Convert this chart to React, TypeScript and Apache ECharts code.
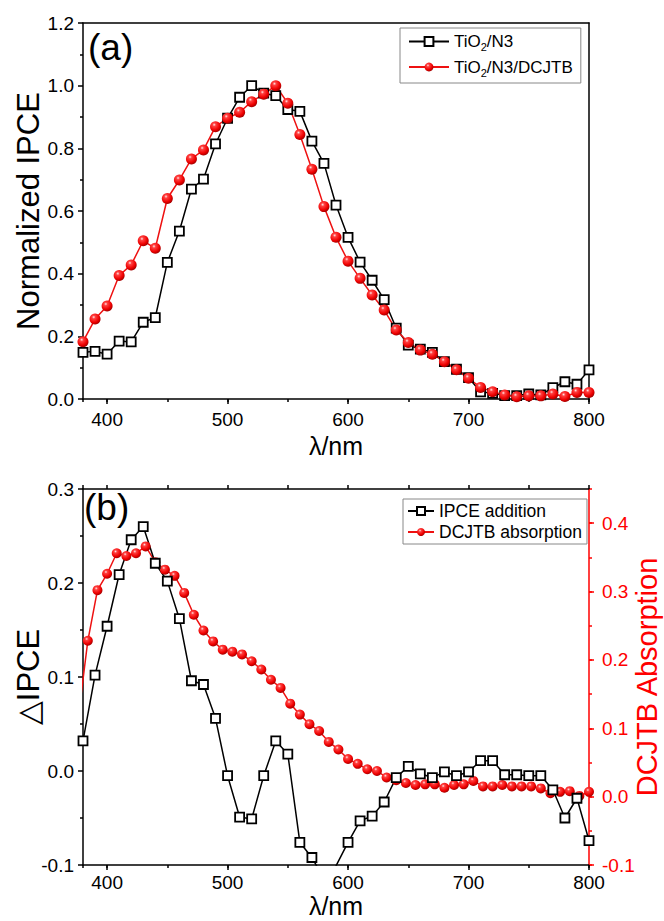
import React, { useEffect, useRef } from 'react';
import * as echarts from 'echarts';

// ---------- data ----------
const lambdaA = [380, 390, 400, 410, 420, 430, 440, 450, 460, 470, 480, 490, 500, 510, 520, 530, 540, 550, 560, 570, 580, 590, 600, 610, 620, 630, 640, 650, 660, 670, 680, 690, 700, 710, 720, 730, 740, 750, 760, 770, 780, 790, 800];
const n3Ipce = [0.149, 0.152, 0.143, 0.185, 0.182, 0.245, 0.26, 0.436, 0.536, 0.67, 0.702, 0.814, 0.896, 0.963, 1.0, 0.976, 0.968, 0.924, 0.918, 0.823, 0.752, 0.619, 0.516, 0.437, 0.379, 0.317, 0.226, 0.172, 0.159, 0.149, 0.119, 0.095, 0.068, 0.023, 0.018, 0.011, 0.011, 0.016, 0.013, 0.036, 0.055, 0.047, 0.093];
const dcjtbIpce = [0.183, 0.255, 0.297, 0.394, 0.428, 0.505, 0.481, 0.64, 0.699, 0.766, 0.795, 0.869, 0.896, 0.915, 0.949, 0.973, 1.0, 0.944, 0.844, 0.733, 0.614, 0.516, 0.44, 0.385, 0.332, 0.284, 0.22, 0.18, 0.156, 0.143, 0.119, 0.093, 0.066, 0.037, 0.023, 0.013, 0.007, 0.01, 0.01, 0.016, 0.008, 0.021, 0.021];

const lambdaB = [380, 390, 400, 410, 420, 430, 440, 450, 460, 470, 480, 490, 500, 510, 520, 530, 540, 550, 560, 570, 580, 590, 600, 610, 620, 630, 640, 650, 660, 670, 680, 690, 700, 710, 720, 730, 740, 750, 760, 770, 780, 790, 800];
const ipceAddition = [0.032, 0.102, 0.154, 0.209, 0.246, 0.26, 0.221, 0.202, 0.162, 0.096, 0.092, 0.056, -0.005, -0.049, -0.051, -0.005, 0.032, 0.018, -0.076, -0.092, -0.115, -0.101, -0.076, -0.053, -0.048, -0.033, -0.007, 0.005, -0.003, -0.007, -0.001, -0.005, -0.001, 0.011, 0.011, -0.004, -0.004, -0.005, -0.005, -0.02, -0.05, -0.029, -0.074];

const lambdaAbs = [376, 384, 392, 400, 408, 416, 424, 432, 440, 448, 456, 464, 472, 480, 488, 496, 504, 512, 520, 528, 536, 544, 552, 560, 568, 576, 584, 592, 600, 608, 616, 624, 632, 640, 648, 656, 664, 672, 680, 688, 696, 704, 712, 720, 728, 736, 744, 752, 760, 768, 776, 784, 792, 800];
const dcjtbAbs = [0.115, 0.228, 0.302, 0.326, 0.356, 0.352, 0.356, 0.366, 0.343, 0.332, 0.323, 0.298, 0.266, 0.243, 0.227, 0.215, 0.212, 0.208, 0.198, 0.186, 0.171, 0.159, 0.136, 0.12, 0.106, 0.096, 0.08, 0.069, 0.055, 0.048, 0.04, 0.0375, 0.028, 0.024, 0.02, 0.017, 0.018, 0.018, 0.013, 0.017, 0.018, 0.023, 0.015, 0.015, 0.017, 0.015, 0.015, 0.015, 0.012, 0.005, 0.007, 0.008, 0.001, 0.007];

const legendTop = ['TiO2/N3', 'TiO2/N3/DCJTB'];
const legendBottom = ['IPCE addition', 'DCJTB absorption'];

// ---------- style ----------
const FONT = '"Liberation Sans", Arial, sans-serif';
const RED = '#ff0000';
const LINE_RED = '#ee1111';
const sphere = {
  type: 'radial', x: 0.38, y: 0.32, r: 0.7,
  colorStops: [
    { offset: 0, color: '#ffe6e6' },
    { offset: 0.22, color: '#ff4040' },
    { offset: 0.7, color: '#ee0000' },
    { offset: 1, color: '#a00000' },
  ],
};

const zip = (xs: number[], ys: number[]) => xs.map((x, i) => [x, ys[i]]);

function xAxes(grid: number, topTicks: boolean, nameGap: number, labelMargin: number) {
  return [
    {
      gridIndex: grid, type: 'value', position: 'bottom', min: 380, max: 800,
      minInterval: 100, maxInterval: 100,
      axisLine: { show: true, onZero: false, lineStyle: { color: '#000', width: 1.5 } },
      axisTick: { show: true, inside: false, length: 5, lineStyle: { color: '#000', width: 1.5 } },
      axisLabel: {
        show: true, margin: labelMargin, fontSize: 19, lineHeight: 18, fontFamily: FONT, color: '#000', showMinLabel: false,
        formatter: (v: number) => (v % 100 === 0 ? String(v) : ''),
      },
      splitLine: { show: false },
      name: 'λ/nm', nameLocation: 'middle', nameGap, nameMoveOverlap: false,
      nameTextStyle: { fontSize: 25, lineHeight: 24, fontFamily: FONT, color: '#000' },
    },
    {
      gridIndex: grid, type: 'value', position: 'bottom', min: 380, max: 800,
      minInterval: 50, maxInterval: 50,
      axisLine: { show: false, onZero: false },
      axisTick: { show: true, inside: false, length: 3, lineStyle: { color: '#000', width: 1.5 } },
      axisLabel: { show: false },
      splitLine: { show: false },
    },
    {
      gridIndex: grid, type: 'value', position: 'top', min: 380, max: 800,
      minInterval: 50, maxInterval: 50,
      axisLine: { show: true, onZero: false, lineStyle: { color: '#000', width: 1.5 } },
      axisTick: { show: topTicks, inside: false, length: 4, lineStyle: { color: '#000', width: 1.5 } },
      axisLabel: { show: false },
      splitLine: { show: false },
    },
  ];
}

const option: any = {
  animation: false,
  backgroundColor: '#fff',
  grid: [
    { left: 83, right: 75, top: 23, height: 376, outerBoundsMode: 'none', containLabel: false },
    { left: 83, right: 75, top: 489, height: 376, outerBoundsMode: 'none', containLabel: false },
  ],
  xAxis: [...xAxes(0, false, 35, 11), ...xAxes(1, true, 29, 8)],
  yAxis: [
    {
      gridIndex: 0, type: 'value', position: 'left', min: 0, max: 1.2, interval: 0.2,
      axisLine: { show: true, onZero: false, lineStyle: { color: '#000', width: 1.5 } },
      axisTick: { show: true, length: 5, lineStyle: { color: '#000', width: 1.5 } },
      minorTick: { show: true, splitNumber: 2, length: 3, lineStyle: { color: '#000', width: 1.5 } },
      axisLabel: { margin: 9, fontSize: 19, fontFamily: FONT, color: '#000', formatter: (v: number) => v.toFixed(1) },
      splitLine: { show: false },
      name: 'Normalized IPCE', nameLocation: 'middle', nameGap: 39, nameMoveOverlap: false,
      nameTextStyle: { fontSize: 31, fontFamily: FONT, color: '#000' },
    },
    {
      gridIndex: 0, type: 'value', position: 'right', min: 0, max: 1.2, interval: 0.2,
      axisLine: { show: true, onZero: false, lineStyle: { color: '#000', width: 1.5 } },
      axisTick: { show: false }, axisLabel: { show: false }, splitLine: { show: false },
    },
    {
      gridIndex: 1, type: 'value', position: 'left', min: -0.1, max: 0.3, interval: 0.1,
      axisLine: { show: true, onZero: false, lineStyle: { color: '#000', width: 1.5 } },
      axisTick: { show: true, length: 5, lineStyle: { color: '#000', width: 1.5 } },
      minorTick: { show: true, splitNumber: 2, length: 3, lineStyle: { color: '#000', width: 1.5 } },
      axisLabel: { margin: 9, fontSize: 19, fontFamily: FONT, color: '#000', formatter: (v: number) => v.toFixed(1) },
      splitLine: { show: false },
      name: '△IPCE', nameLocation: 'middle', nameGap: 39, nameMoveOverlap: false,
      nameTextStyle: { fontSize: 31, fontFamily: FONT, color: '#000' },
    },
    {
      gridIndex: 1, type: 'value', position: 'right', min: -0.1, max: 0.45, interval: 0.1,
      axisLine: { show: true, onZero: false, lineStyle: { color: RED, width: 1.5 } },
      axisTick: { show: true, length: 5, lineStyle: { color: RED, width: 1.5 } },
      axisLabel: { margin: 13, fontSize: 19, fontFamily: FONT, color: RED, showMaxLabel: false, formatter: (v: number) => v.toFixed(1) },
      splitLine: { show: false },
      name: 'DCJTB Absorption', nameLocation: 'middle', nameGap: 43, nameRotate: 90, nameMoveOverlap: false,
      nameTextStyle: { fontSize: 29, fontFamily: FONT, color: RED },
    },
    {
      gridIndex: 1, type: 'value', position: 'right', min: -0.1, max: 0.45, interval: 0.05,
      axisLine: { show: false, onZero: false },
      axisTick: { show: true, length: 3, lineStyle: { color: RED, width: 1.5 } },
      axisLabel: { show: false }, splitLine: { show: false },
    },
  ],
  legend: [
    {
      data: legendTop, orient: 'vertical', left: 400, top: 28,
      itemWidth: 40, itemHeight: 11, itemGap: 6, padding: [5, 8, 5, 8],
      borderColor: '#888', borderWidth: 1, backgroundColor: '#fff',
      textStyle: {
        fontFamily: FONT, fontSize: 17, color: '#000',
        rich: {
          n: { fontFamily: FONT, fontSize: 17, color: '#000', lineHeight: 22, verticalAlign: 'middle' },
          s: { fontFamily: FONT, fontSize: 11, color: '#000', lineHeight: 11, verticalAlign: 'bottom' },
        },
      },
      formatter: (name: string) => `{n|TiO}{s|2}{n|${name.slice(4)}}`,
    },
    {
      data: legendBottom, orient: 'vertical', left: 403, top: 499,
      itemWidth: 26, itemHeight: 10, itemGap: 3, padding: [3, 5, 3, 4],
      borderColor: '#888', borderWidth: 1, backgroundColor: '#fff',
      textStyle: { fontFamily: FONT, fontSize: 17.5, color: '#000' },
    },
  ],
  graphic: [
    { type: 'text', left: 88, top: 29, style: { text: '(a)', fontSize: 37, fontFamily: FONT, fill: '#000' } },
    { type: 'text', left: 84, top: 489, style: { text: '(b)', fontSize: 37, fontFamily: FONT, fill: '#000' } },
  ],
  series: [
    {
      name: 'TiO2/N3', type: 'line', xAxisIndex: 0, yAxisIndex: 0,
      data: zip(lambdaA, n3Ipce), symbol: 'rect', symbolSize: 9,
      itemStyle: { color: '#fff', borderColor: '#000', borderWidth: 1.8 },
      lineStyle: { color: '#000', width: 1.5 },
    },
    {
      name: 'TiO2/N3/DCJTB', type: 'line', xAxisIndex: 0, yAxisIndex: 0,
      data: zip(lambdaA, dcjtbIpce), symbol: 'circle', symbolSize: 11,
      itemStyle: { color: sphere, borderWidth: 0 },
      lineStyle: { color: LINE_RED, width: 1.5 },
    },
    {
      name: 'DCJTB absorption', type: 'line', xAxisIndex: 3, yAxisIndex: 3,
      data: zip(lambdaAbs, dcjtbAbs), symbol: 'circle', symbolSize: 10,
      itemStyle: { color: sphere, borderWidth: 0 },
      lineStyle: { color: LINE_RED, width: 1.5 },
    },
    {
      name: 'IPCE addition', type: 'line', xAxisIndex: 3, yAxisIndex: 2,
      data: zip(lambdaB, ipceAddition), symbol: 'rect', symbolSize: 9,
      itemStyle: { color: '#fff', borderColor: '#000', borderWidth: 1.8 },
      lineStyle: { color: '#000', width: 1.5 },
    },
  ],
};

export default function App() {
  const ref = useRef<HTMLDivElement>(null);
  useEffect(() => {
    const chart = echarts.init(ref.current!, null, { renderer: 'svg' });
    chart.setOption(option);
    return () => chart.dispose();
  }, []);
  return (
    <div
      ref={ref}
      style={{ position: 'fixed', left: 0, top: 0, width: 664, height: 921, background: '#fff' }}
    />
  );
}
